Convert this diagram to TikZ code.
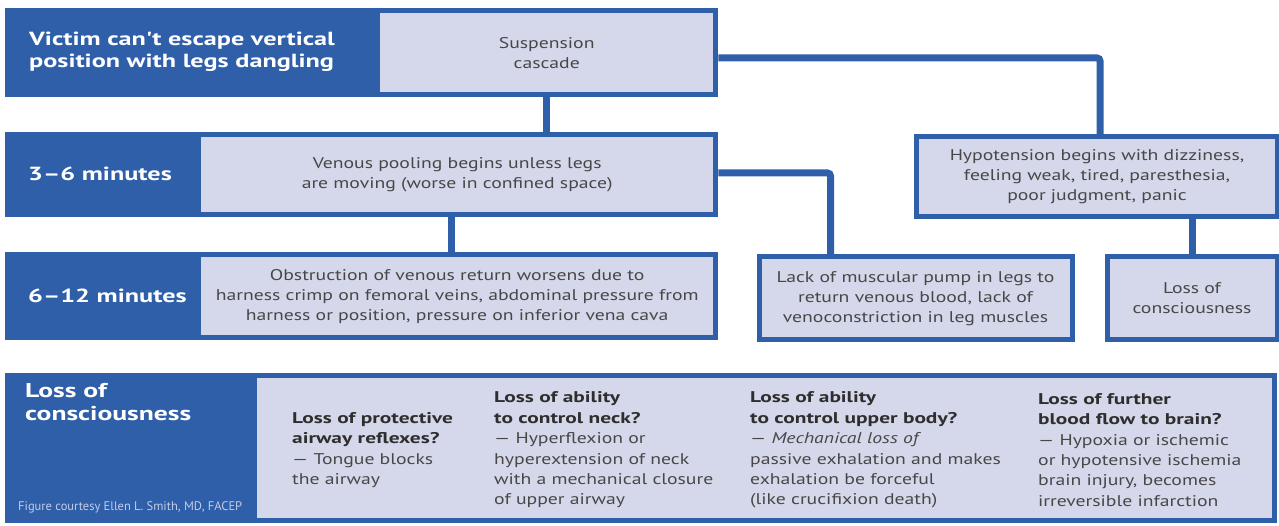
\documentclass[tikz,border=0pt]{standalone}
\usepackage{fontspec}
\setmainfont{PT Sans}[FakeStretch=1.27]
\newfontfamily\hfam{PT Sans}[FakeStretch=1.38]
\newfontfamily\crfam{PT Sans}[FakeStretch=1.0]
\definecolor{dblue}{HTML}{2F5FA8}
\definecolor{lfill}{HTML}{D5D8EA}
\definecolor{btext}{HTML}{474747}
\definecolor{htext}{HTML}{2E2E2E}
\definecolor{ctext}{HTML}{C2CCE6}
\newcommand{\hd}[1]{\textcolor{htext}{\hfam\bfseries #1}}
\begin{document}
\begin{tikzpicture}[x=1pt,y=-1pt,
  dk/.style={fill=dblue,draw=none,inner sep=0pt,anchor=north west},
  lt/.style={fill=lfill,draw=none,inner sep=0pt,anchor=north west,align=center,text=btext,font=\fontsize{15.5}{20}\selectfont},
  ltb/.style={lt,draw=dblue,line width=5pt},
  wt/.style={text=white,inner sep=0pt,align=left,font=\fontsize{19}{22}\selectfont\hfam\bfseries},
  col/.style={inner sep=0pt,anchor=west,align=left,text=btext,font=\fontsize{15.5}{20.4}\selectfont},
  conn/.style={draw=dblue,line width=7pt}]
\useasboundingbox (0,0) rectangle (1279,526);
% row 1
\node[dk,minimum width=713pt,minimum height=89pt] (r1) at (5,8) {};
\node[lt,minimum width=333pt,minimum height=79pt] (r1b) at (380,13) {Suspension\\cascade};
\node[wt,anchor=west] (t1) at (29,52) {Victim can't escape vertical\\position with legs dangling};
% row 2
\node[dk,minimum width=713pt,minimum height=85pt] (r2) at (5,132) {};
\node[lt,minimum width=512pt,minimum height=75pt] (r2b) at (201,137) {Venous pooling begins unless legs\\are moving (worse in confined space)};
\node[wt,anchor=west] (t2) at (28,174) {3–6 minutes};
% row 3
\node[dk,minimum width=713pt,minimum height=88pt] (r3) at (5,252) {};
\node[lt,minimum width=512pt,minimum height=78pt] (r3b) at (201,257) {Obstruction of venous return worsens due to\\harness crimp on femoral veins, abdominal pressure from\\harness or position, pressure on inferior vena cava};
\node[wt,anchor=west] (t3) at (28,296) {6–12 minutes};
% right boxes
\node[ltb,minimum width=361pt,minimum height=80pt] (hyp) at (914,134) {Hypotension begins with dizziness,\\feeling weak, tired, paresthesia,\\poor judgment, panic};
\node[ltb,minimum width=313pt,minimum height=83pt] (lack) at (756.5,254.5) {Lack of muscular pump in legs to\\return venous blood, lack of\\venoconstriction in leg muscles};
\node[ltb,minimum width=170pt,minimum height=83pt] (loss) at (1104.5,254.5) {Loss of\\consciousness};
% connectors
\draw[conn] (r1b.south) -- (r1b.south |- r2.north);
\draw[conn,rounded corners=3pt] (r1.east |- 0,58) -| ([xshift=3pt]hyp.north);
\draw[conn,rounded corners=3pt] (r2.east |- 0,173) -| ([xshift=74pt]lack.north west);
\draw[conn] ([xshift=446pt]r2.south west) -- ([xshift=446pt]r3.north west);
\draw[conn] (loss.north |- hyp.south) -- (loss.north);
% bottom
\node[dk,minimum width=1272pt,minimum height=150pt] (bot) at (5,373) {};
\node[lt,minimum width=1015pt,minimum height=140pt] (botb) at (257,378) {};
\node[wt,anchor=north west,font=\fontsize{20}{23}\selectfont\hfam\bfseries] (t4) at (25,383) {Loss of\\consciousness};
\node[inner sep=0pt,anchor=west,text=ctext,font=\fontsize{12.5}{14}\selectfont\crfam] (cr) at (18,507) {Figure courtesy Ellen L. Smith, MD, FACEP};
\node[col] (c1) at (292,450) {\hd{Loss of protective}\\\hd{airway reflexes?}\\— Tongue blocks\\the airway};
\node[col] (c2) at (494,450) {\hd{Loss of ability}\\\hd{to control neck?}\\— Hyperflexion or\\hyperextension of neck\\with a mechanical closure\\of upper airway};
\node[col] (c3) at (750,450) {\hd{Loss of ability}\\\hd{to control upper body?}\\— \textit{Mechanical loss of}\\passive exhalation and makes\\exhalation be forceful\\(like crucifixion death)};
\node[col] (c4) at (1038,450) {\hd{Loss of further}\\\hd{blood flow to brain?}\\— Hypoxia or ischemic\\or hypotensive ischemia\\brain injury, becomes\\irreversible infarction};
\end{tikzpicture}
\end{document}
